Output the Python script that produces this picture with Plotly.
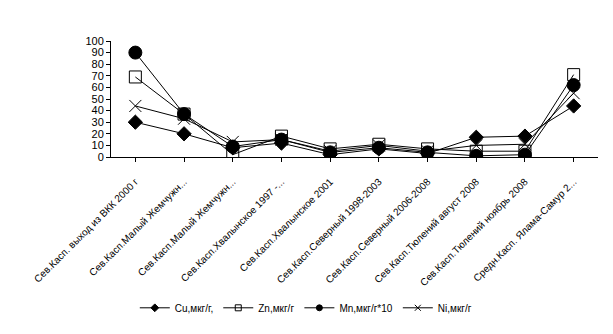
import plotly.graph_objects as go

categories = [
    "Сев.Касп. выход из ВКК 2000 г",
    "Сев.Касп.Малый Жемчужн...",
    "Сев.Касп.Малый Жемчужн...",
    "Сев.Касп.Хвалынское 1997 -...",
    "Сев.Касп.Хвалынское 2001",
    "Сев.Касп.Северный 1998-2003",
    "Сев.Касп.Северный 2006-2008",
    "Сев.Касп.Тюлений август 2008",
    "Сев.Касп.Тюлений ноябрь 2008",
    "Средн.Касп. Ялама-Самур 2...",
]
cu = [30, 20, 8, 12, 2, 7, 3, 17, 18, 44]
zn = [69, 37, 2, 18, 7, 11, 7, 5, 5, 71]
mn = [90, 37, 9, 15, 4, 8, 4, 1, 2, 62]
ni = [44, 33, 13, 15, 5, 10, 5, 10, 11, 55]
yticks = list(range(0, 101, 10))

x = list(range(len(categories)))
fam = "Liberation Sans, Arial"

series = [
    ("Cu,мкг/г,", cu, "diamond", 11, 6),
    ("Zn,мкг/г", zn, "square-open", 12, 6),
    ("Mn,мкг/г*10", mn, "circle", 13, 6),
    ("Ni,мкг/г", ni, "x-thin-open", 12, 6),
]

fig = go.Figure()
for name, vals, sym, size, lsize in series:
    fig.add_trace(go.Scatter(x=x, y=vals, name=name, mode="lines+markers",
                             showlegend=False,
                             line=dict(color="black", width=1),
                             marker=dict(symbol=sym, size=size, color="black",
                                         line=dict(width=1, color="black"))))
for name, vals, sym, size, lsize in series:
    fig.add_trace(go.Scatter(x=[None], y=[None], name=name, mode="lines+markers",
                             showlegend=True,
                             line=dict(color="black", width=1),
                             marker=dict(symbol=sym, size=lsize, color="black",
                                         line=dict(width=1, color="black"))))

fig.update_layout(
    width=613, height=334,
    margin=dict(l=111, r=15, t=41, b=177),
    paper_bgcolor="white", plot_bgcolor="white",
    font=dict(family=fam, size=10, color="black"),
    showlegend=True,
    legend=dict(orientation="h", x=0.40, xanchor="center", y=-1.30, yanchor="middle",
                font=dict(family=fam, size=10, color="black"),
                itemwidth=30, tracegroupgap=0),
)
fig.update_xaxes(
    tickmode="array", tickvals=x, ticktext=categories, tickangle=-45,
    range=[-0.5, len(categories) - 0.5],
    showline=True, linecolor="black", linewidth=1,
    ticks="outside", ticklen=4, tickcolor="black", tickson="boundaries",
    ticklabelstandoff=10,
    showgrid=False, zeroline=False,
    tickfont=dict(family=fam, size=10, color="black"),
)
fig.update_yaxes(
    range=[0, 100], tickvals=yticks,
    showline=True, linecolor="black", linewidth=1,
    ticks="outside", ticklen=4, tickcolor="black",
    showgrid=False, zeroline=False,
    tickfont=dict(family=fam, size=11, color="black"),
)
fig.write_html("out.html")
